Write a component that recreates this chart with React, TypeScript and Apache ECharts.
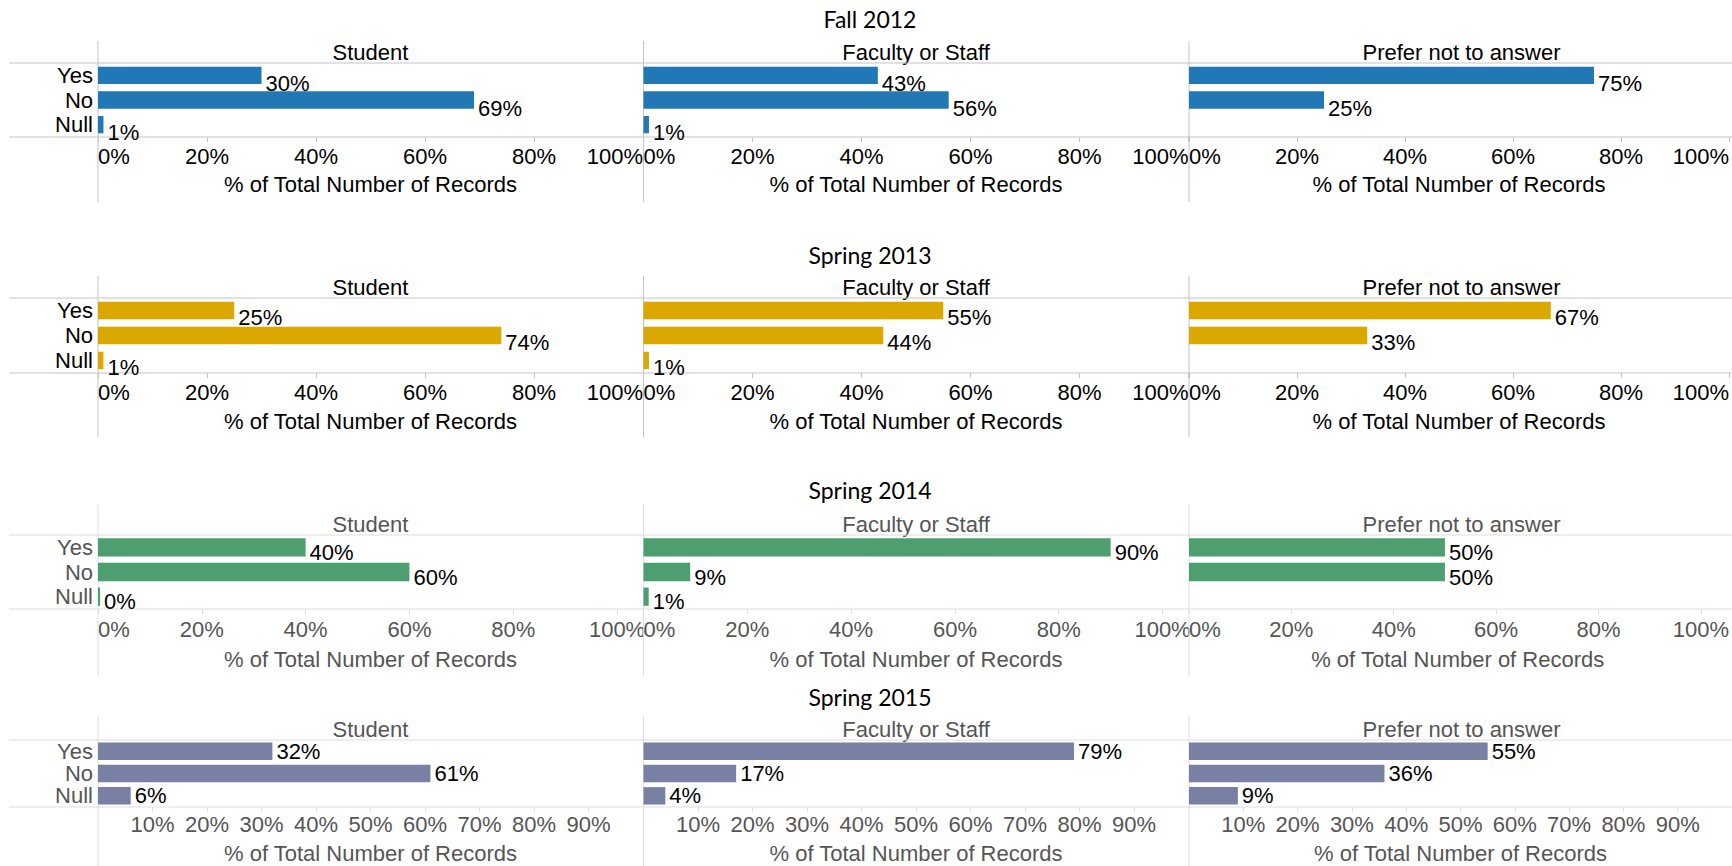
import React, { useEffect, useRef } from "react";
import * as echarts from "echarts";

const categories = ["Yes", "No", "Null"];
const rowTitles = ["Fall 2012", "Spring 2013", "Spring 2014", "Spring 2015"];
const panelNames = ["Student", "Faculty or Staff", "Prefer not to answer"];
const fall2012 = [[30, 69, 1], [43, 56, 1], [75, 25, null]];
const spring2013 = [[25, 74, 1], [55, 44, 1], [67, 33, null]];
const spring2014 = [[40, 60, 0.4], [90, 9, 1], [50, 50, null]];
const spring2015 = [[32, 61, 6], [79, 17, 4], [55, 36, 9]];
const ticksBy20 = [0, 20, 40, 60, 80, 100];
const ticksBy10 = [10, 20, 30, 40, 50, 60, 70, 80, 90];
const axisTitle = "% of Total Number of Records";

const rowData = [fall2012, spring2013, spring2014, spring2015];

const FONT = "'Liberation Sans', Arial, sans-serif";
const TITLE_FONT = "Lato, 'Open Sans', sans-serif";
const FS = 22;

const rowStyles = [
  { top: 63, bottom: 137, titleY: 19, vTop: 41, vBottom: 202, color: "#2178b4", text: "#000000", line: "#c4c4c4", max: 100, ticks: ticksBy20, offY: 8, labelMargin: 8, nameGap: 36, gap: "30%", alignMin: "left", alignMax: "right" },
  { top: 298, bottom: 373, titleY: 255, vTop: 276, vBottom: 437, color: "#dba800", text: "#000000", line: "#c4c4c4", max: 100, ticks: ticksBy20, offY: 7, labelMargin: 8, nameGap: 37, gap: "30%", alignMin: "left", alignMax: "right" },
  { top: 535, bottom: 609, titleY: 490, vTop: 505, vBottom: 676, color: "#4e9f6f", text: "#555555", line: "#dddddd", max: 105, ticks: ticksBy20, offY: 5, labelMargin: 9, nameGap: 39, gap: "26%", alignMin: "left", alignMax: "center" },
  { top: 740, bottom: 807, titleY: 697, vTop: 716, vBottom: 866, color: "#7880a4", text: "#555555", line: "#dddddd", max: 100, ticks: ticksBy10, offY: 0, labelMargin: 6, nameGap: 35, gap: "22%", alignMin: "center", alignMax: "center" },
];

const panelLefts = [98, 643.5, 1189];
const panelWidth = 545;

export default function App() {
  const ref = useRef<HTMLDivElement>(null);
  useEffect(() => {
    if (!ref.current) return;
    const chart = echarts.init(ref.current, undefined, { renderer: "svg" });
    const grids: any[] = [];
    const xAxes: any[] = [];
    const yAxes: any[] = [];
    const series: any[] = [];
    const graphic: any[] = [];

    rowStyles.forEach((rs, i) => {
      graphic.push({
        type: "text",
        x: 870,
        y: rs.titleY,
        style: { text: rowTitles[i], align: "center", verticalAlign: "middle", fontSize: 23, fontFamily: TITLE_FONT, fill: "#000" },
      });
      graphic.push({ type: "line", shape: { x1: 9, y1: rs.top, x2: 1732, y2: rs.top }, style: { stroke: rs.line, lineWidth: 1 }, z: 1 });
      graphic.push({ type: "line", shape: { x1: 9, y1: rs.bottom, x2: 1732, y2: rs.bottom }, style: { stroke: rs.line, lineWidth: 1 }, z: 1 });
      panelNames.forEach((pn, j) => {
        const k = i * 3 + j;
        const left = panelLefts[j];
        graphic.push({ type: "line", shape: { x1: left, y1: rs.vTop, x2: left, y2: rs.vBottom }, style: { stroke: rs.line, lineWidth: 1 }, z: 1 });
        graphic.push({
          type: "text",
          x: left + panelWidth / 2,
          y: rs.top - 11,
          style: { text: pn, align: "center", verticalAlign: "middle", fontSize: FS, fontFamily: FONT, fill: rs.text },
        });
        grids.push({ left, top: rs.top, width: panelWidth, height: rs.bottom - rs.top, containLabel: false });
        xAxes.push({
          type: "value",
          gridIndex: k,
          min: 0,
          max: rs.max,
          axisLine: { show: false },
          splitLine: { show: false },
          axisTick: { show: true, length: 5, customValues: rs.ticks, lineStyle: { color: rs.line } },
          axisLabel: {
            customValues: rs.ticks,
            formatter: (v: number) => v + "%",
            fontSize: FS,
            fontFamily: FONT,
            color: rs.text,
            margin: rs.labelMargin,
            showMinLabel: true,
            showMaxLabel: true,
            hideOverlap: false,
            alignMinLabel: rs.alignMin,
            alignMaxLabel: rs.alignMax,
          },
          name: axisTitle,
          nameLocation: "middle",
          nameGap: rs.nameGap,
          nameTextStyle: { fontSize: FS, fontFamily: FONT, color: rs.text },
        });
        yAxes.push({
          type: "category",
          gridIndex: k,
          data: categories,
          inverse: true,
          axisLine: { show: false },
          axisTick: { show: false },
          splitLine: { show: false },
          axisLabel: { show: j === 0, interval: 0, fontSize: FS, fontFamily: FONT, color: rs.text, margin: 5 },
        });
        series.push({
          type: "bar",
          xAxisIndex: k,
          yAxisIndex: k,
          data: rowData[i][j],
          barCategoryGap: rs.gap,
          itemStyle: { color: rs.color },
          z: 3,
          label: {
            show: true,
            position: "right",
            distance: 4,
            offset: [0, rs.offY],
            formatter: (p: any) => (p.value == null ? "" : Math.round(p.value) + "%"),
            fontSize: FS,
            fontFamily: FONT,
            color: "#000",
          },
        });
      });
    });

    chart.setOption({
      animation: false,
      backgroundColor: "#ffffff",
      grid: grids,
      xAxis: xAxes,
      yAxis: yAxes,
      series,
      graphic,
    });
    return () => chart.dispose();
  }, []);
  return <div ref={ref} style={{ position: "absolute", left: 0, top: 0, width: 1732, height: 866 }} />;
}
